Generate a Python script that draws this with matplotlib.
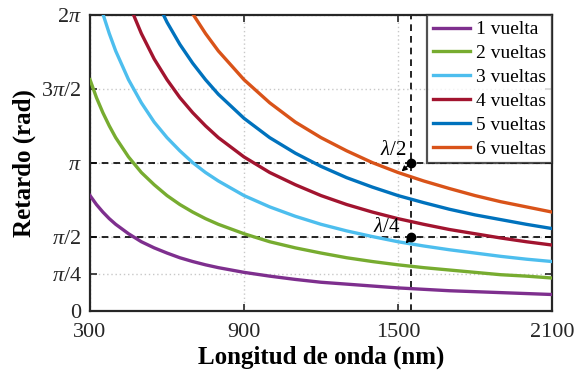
import numpy as np
import matplotlib
matplotlib.use("Agg")
import matplotlib.pyplot as plt

# Wavelength grid (nm)
wavelength = [300, 325, 350, 375, 400, 450, 500, 550, 600, 650, 700, 750, 800,
              900, 1000, 1100, 1200, 1300, 1400, 1500, 1600, 1700, 1800, 1900,
              2000, 2100]

# Retardance (rad) for each number of fibre loops; each list ends at 2100 nm
ret_1 = [2.45, 2.26, 2.10, 1.96, 1.84, 1.64, 1.47, 1.34, 1.23, 1.13, 1.05, 0.98,
         0.92, 0.82, 0.74, 0.67, 0.61, 0.57, 0.53, 0.49, 0.46, 0.43, 0.41, 0.39,
         0.37, 0.35]
ret_2 = [4.91, 4.53, 4.21, 3.93, 3.68, 3.27, 2.94, 2.68, 2.45, 2.26, 2.10, 1.96,
         1.84, 1.64, 1.47, 1.34, 1.23, 1.13, 1.05, 0.98, 0.92, 0.87, 0.82, 0.77,
         0.74, 0.70]
ret_3 = [6.31, 5.89, 5.52, 4.91, 4.42, 4.01, 3.68, 3.40, 3.15, 2.94, 2.76, 2.45,
         2.21, 2.01, 1.84, 1.70, 1.58, 1.47, 1.38, 1.30, 1.23, 1.16, 1.10, 1.05]
ret_4 = [6.54, 5.89, 5.35, 4.91, 4.53, 4.21, 3.93, 3.68, 3.27, 2.94, 2.68, 2.45,
         2.26, 2.10, 1.96, 1.84, 1.73, 1.64, 1.55, 1.47, 1.40]
ret_5 = [6.69, 6.13, 5.66, 5.26, 4.91, 4.60, 4.09, 3.68, 3.35, 3.07, 2.83, 2.63,
         2.45, 2.30, 2.16, 2.04, 1.94, 1.84, 1.75]
ret_6 = [6.31, 5.89, 5.52, 4.91, 4.42, 4.01, 3.68, 3.40, 3.15, 2.94, 2.76, 2.60,
         2.45, 2.32, 2.21, 2.10]

labels = ["1 vuelta", "2 vueltas", "3 vueltas", "4 vueltas", "5 vueltas", "6 vueltas"]
colors = ["#7E2F8E", "#77AC30", "#4DBEEE", "#A2142F", "#0072BD", "#D95319"]

# Working wavelength and target retardances
lambda_op = 1550
half_wave = np.pi
quarter_wave = np.pi / 2

x_ticks = [300, 900, 1500, 2100]
y_ticks = [0, np.pi / 4, np.pi / 2, np.pi, 3 * np.pi / 2, 2 * np.pi]
y_ticklabels = ["0", r"$\pi$/4", r"$\pi$/2", r"$\pi$", r"3$\pi$/2", r"2$\pi$"]

plt.rcParams["font.family"] = ["Liberation Serif", "DejaVu Serif"]
plt.rcParams["mathtext.fontset"] = "custom"
plt.rcParams["mathtext.rm"] = "Liberation Serif"
plt.rcParams["mathtext.it"] = "Liberation Serif:italic"

fig = plt.figure(figsize=(5.76, 3.75), dpi=100)
ax = fig.add_axes([0.1563, 0.1707, 0.8020, 0.7893])

wl = np.array(wavelength)
for vals, lab, col in zip([ret_1, ret_2, ret_3, ret_4, ret_5, ret_6], labels, colors):
    ax.plot(wl[-len(vals):], vals, color=col, lw=2.4, label=lab, zorder=3)

# Reference lines at the operating wavelength
ax.axhline(half_wave, color="black", ls=(0, (4, 3)), lw=1.2, zorder=2)
ax.axhline(quarter_wave, color="black", ls=(0, (4, 3)), lw=1.2, zorder=2)
ax.axvline(lambda_op, color="black", ls=(0, (4, 3)), lw=1.2, zorder=2)

ax.plot([lambda_op, lambda_op], [half_wave, quarter_wave], "o", color="black",
        ms=6, zorder=5)
ax.annotate("", xy=(lambda_op - 36, half_wave - 0.18), xytext=(lambda_op, half_wave),
            arrowprops=dict(arrowstyle="-|>,head_length=0.3,head_width=0.15",
                            color="black", lw=1.0, shrinkA=0, shrinkB=0), zorder=5)
ax.annotate("", xy=(lambda_op - 20, quarter_wave - 0.14), xytext=(lambda_op, quarter_wave),
            arrowprops=dict(arrowstyle="-|>,head_length=0.3,head_width=0.15",
                            color="black", lw=1.0, shrinkA=0, shrinkB=0), zorder=5)
ax.text(lambda_op - 70, half_wave + 0.27, r"$\lambda$/2", fontsize=15,
        ha="center", va="center", zorder=6)
ax.text(lambda_op - 95, quarter_wave + 0.2, r"$\lambda$/4", fontsize=15,
        ha="center", va="center", zorder=6)

ax.set_xlim(300, 2100)
ax.set_ylim(0, 2 * np.pi)
ax.set_xticks(x_ticks)
ax.set_yticks(y_ticks)
ax.set_yticklabels(y_ticklabels)
ax.tick_params(direction="in", length=5, width=1.2, labelsize=16, top=True,
               right=True, colors="#262626", labelcolor="#262626")
ax.tick_params(axis="x", pad=9)
ax.tick_params(axis="y", pad=6)
ax.grid(True, color="#c8c8c8", ls=(0, (1, 2)), lw=1.0, zorder=0)
for s in ax.spines.values():
    s.set_linewidth(1.6)
    s.set_color("#262626")

ax.set_xlabel("Longitud de onda (nm)", fontsize=18, fontweight="bold", labelpad=2)
ax.set_ylabel("Retardo (rad)", fontsize=18, fontweight="bold", labelpad=4)

leg = ax.legend(loc="upper right", fontsize=14, frameon=True, fancybox=False,
                borderaxespad=0, handlelength=1.9, handletextpad=0.3,
                labelspacing=0.32, borderpad=0.3)
leg.get_frame().set_edgecolor("#262626")
leg.get_frame().set_linewidth(1.6)
leg.set_zorder(10)

fig.savefig("out.png", dpi=100)
